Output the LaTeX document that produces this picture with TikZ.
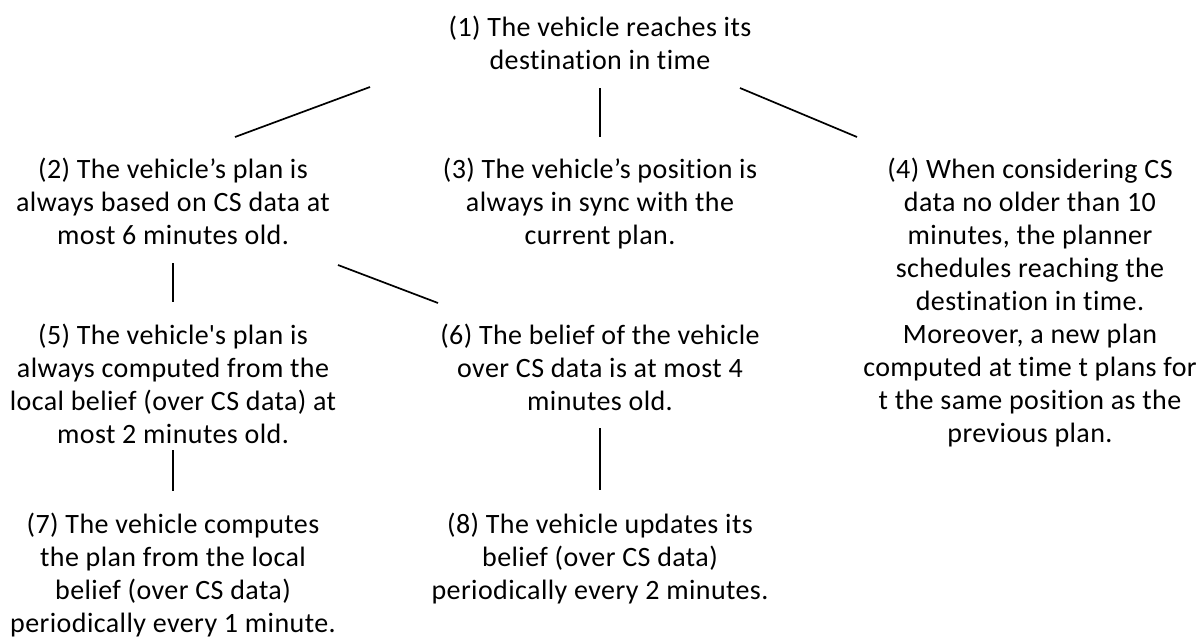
\documentclass[tikz,border=0pt]{standalone}
\usepackage{fontspec}
\setmainfont[Ligatures={TeX,NoCommon},LetterSpace=1.5]{Carlito}
\usepackage{tikz}
\usetikzlibrary{positioning}

\begin{document}
\begin{tikzpicture}[
    x=1pt, y=-1pt,
    claim/.style={anchor=north, inner sep=0pt, align=center, font=\fontsize{28}{33}\selectfont},
    link/.style={draw=black, line width=1.7pt}
]
\useasboundingbox (0,0) rectangle (1200,641);

% Top goal
\node[claim] (g1) at (600,16) {(1) The vehicle reaches its\\destination in time};

% First refinement
\node[claim] (g2) at (173,158) {(2) The vehicle’s plan is\\always based on CS data at\\most 6 minutes old.};
\node[claim] (g3) at (600,158) {(3) The vehicle’s position is\\always in sync with the\\current plan.};
\node[claim] (g4) at (1030,158) {(4) When considering CS\\data no older than 10\\minutes, the planner\\schedules reaching the\\destination in time.\\Moreover, a new plan\\computed at time t plans for\\t the same position as the\\previous plan.};

\draw[link] ([shift={(-230,71)}]g1.north) -- ([shift={(62,-21)}]g2.north);
\draw[link] ([shift={(0,72)}]g1.north) -- ([shift={(0,-21)}]g3.north);
\draw[link] ([shift={(140,72)}]g1.north) -- ([shift={(-173,-21)}]g4.north);

% Second refinement
\node[claim] (g5) at (173,324) {(5) The vehicle\textquotesingle s plan is\\always computed from the\\local belief (over CS data) at\\most 2 minutes old.};
\node[claim] (g6) at (600,324) {(6) The belief of the vehicle\\over CS data is at most 4\\minutes old.};

\draw[link] ([shift={(0,105)}]g2.north) -- ([shift={(0,-22)}]g5.north);
\draw[link] ([shift={(165,107)}]g2.north) -- ([shift={(-162,-21)}]g6.north);

% Leaves
\node[claim] (g7) at (173,513) {(7) The vehicle computes\\the plan from the local\\belief (over CS data)\\periodically every 1 minute.};
\node[claim] (g8) at (600,513) {(8) The vehicle updates its\\belief (over CS data)\\periodically every 2 minutes.};

\draw[link] ([shift={(0,126)}]g5.north) -- ([shift={(0,-22)}]g7.north);
\draw[link] ([shift={(0,104)}]g6.north) -- ([shift={(0,-23)}]g8.north);

\end{tikzpicture}
\end{document}
